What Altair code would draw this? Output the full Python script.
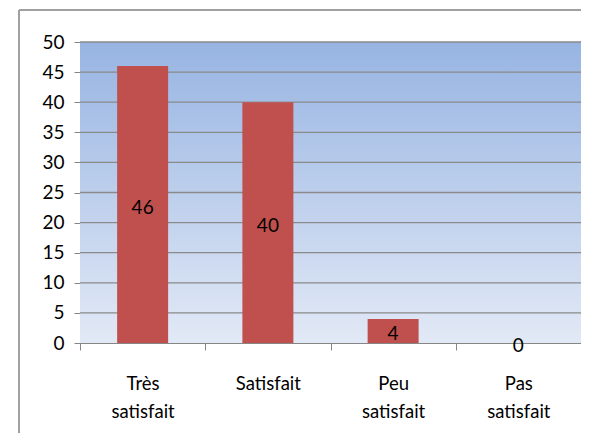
import altair as alt
import pandas as pd

categories = ["Très satisfait", "Satisfait", "Peu satisfait", "Pas satisfait"]
values = [46, 40, 4, 0]
y_ticks = [0, 5, 10, 15, 20, 25, 30, 35, 40, 45, 50]

df = pd.DataFrame({"cat": categories, "val": values})
grid_df = pd.DataFrame({"t": y_ticks[1:]})

FONT = "Lato"

x_enc = alt.X(
    "cat:N",
    sort=categories,
    scale=alt.Scale(paddingInner=0, paddingOuter=0),
    axis=alt.Axis(
        title=None,
        labelAngle=0,
        labelExpr="split(datum.label, ' ')",
        labelFont=FONT,
        labelFontSize=18.5,
        labelColor="#000000",
        labelLineHeight=28,
        labelPadding=24,
        tickBand="extent",
        tickSize=7,
        tickColor="#868686",
        domainColor="#868686",
        grid=False,
    ),
)

y_scale = alt.Scale(domain=[0, 50], nice=False)
y_axis = alt.Axis(
    title=None,
    values=y_ticks,
    labelOverlap=False,
    labelFont=FONT,
    labelFontSize=19,
    labelColor="#000000",
    labelPadding=10,
    tickSize=6,
    tickColor="#868686",
    domainColor="#868686",
    grid=False,
)

background = (
    alt.Chart(pd.DataFrame({"lo": [0], "hi": [50]}))
    .mark_rect(
        color=alt.Gradient(
            gradient="linear",
            stops=[
                alt.GradientStop(color="#97B4E2", offset=0),
                alt.GradientStop(color="#E2E9F6", offset=1),
            ],
            x1=0, x2=0, y1=0, y2=1,
        )
    )
    .encode(
        y=alt.Y("hi:Q", scale=y_scale, axis=y_axis),
        y2="lo:Q",
    )
)

grid = (
    alt.Chart(grid_df)
    .mark_rule(color="#8A8A8A", strokeWidth=1.3)
    .encode(y=alt.Y("t:Q", scale=y_scale, axis=y_axis))
)

bars = (
    alt.Chart(df)
    .mark_bar(color="#C0504D", size=51)
    .encode(
        x=x_enc,
        y=alt.Y("val:Q", scale=y_scale, axis=y_axis),
    )
)

labels = (
    alt.Chart(df)
    .transform_calculate(mid="datum.val / 2")
    .mark_text(font=FONT, fontSize=19, color="#000000", baseline="middle", dy=3)
    .encode(
        x=alt.X("cat:N", sort=categories),
        y=alt.Y("mid:Q", scale=y_scale, axis=y_axis),
        text="val:Q",
    )
)

frame_left = alt.Chart(df).mark_rule(color="#A0A0A0", strokeWidth=2).encode(
    x=alt.value(-61), y=alt.value(-32), y2=alt.value(420)
)
frame_top = alt.Chart(df).mark_rule(color="#A0A0A0", strokeWidth=2).encode(
    x=alt.value(-61), x2=alt.value(501), y=alt.value(-32)
)

chart = (
    alt.layer(background, grid, bars, labels, frame_left, frame_top)
    .resolve_axis(y="shared")
    .properties(
        width=501,
        height=301,
        autosize=alt.AutoSizeParams(type="none"),
        padding={"left": 72, "top": 34, "right": 0, "bottom": 90},
    )
    .configure_view(stroke=None)
    .configure(background="#FFFFFF")
)

chart.save("out.html", embed_options={"renderer": "svg", "actions": False})
